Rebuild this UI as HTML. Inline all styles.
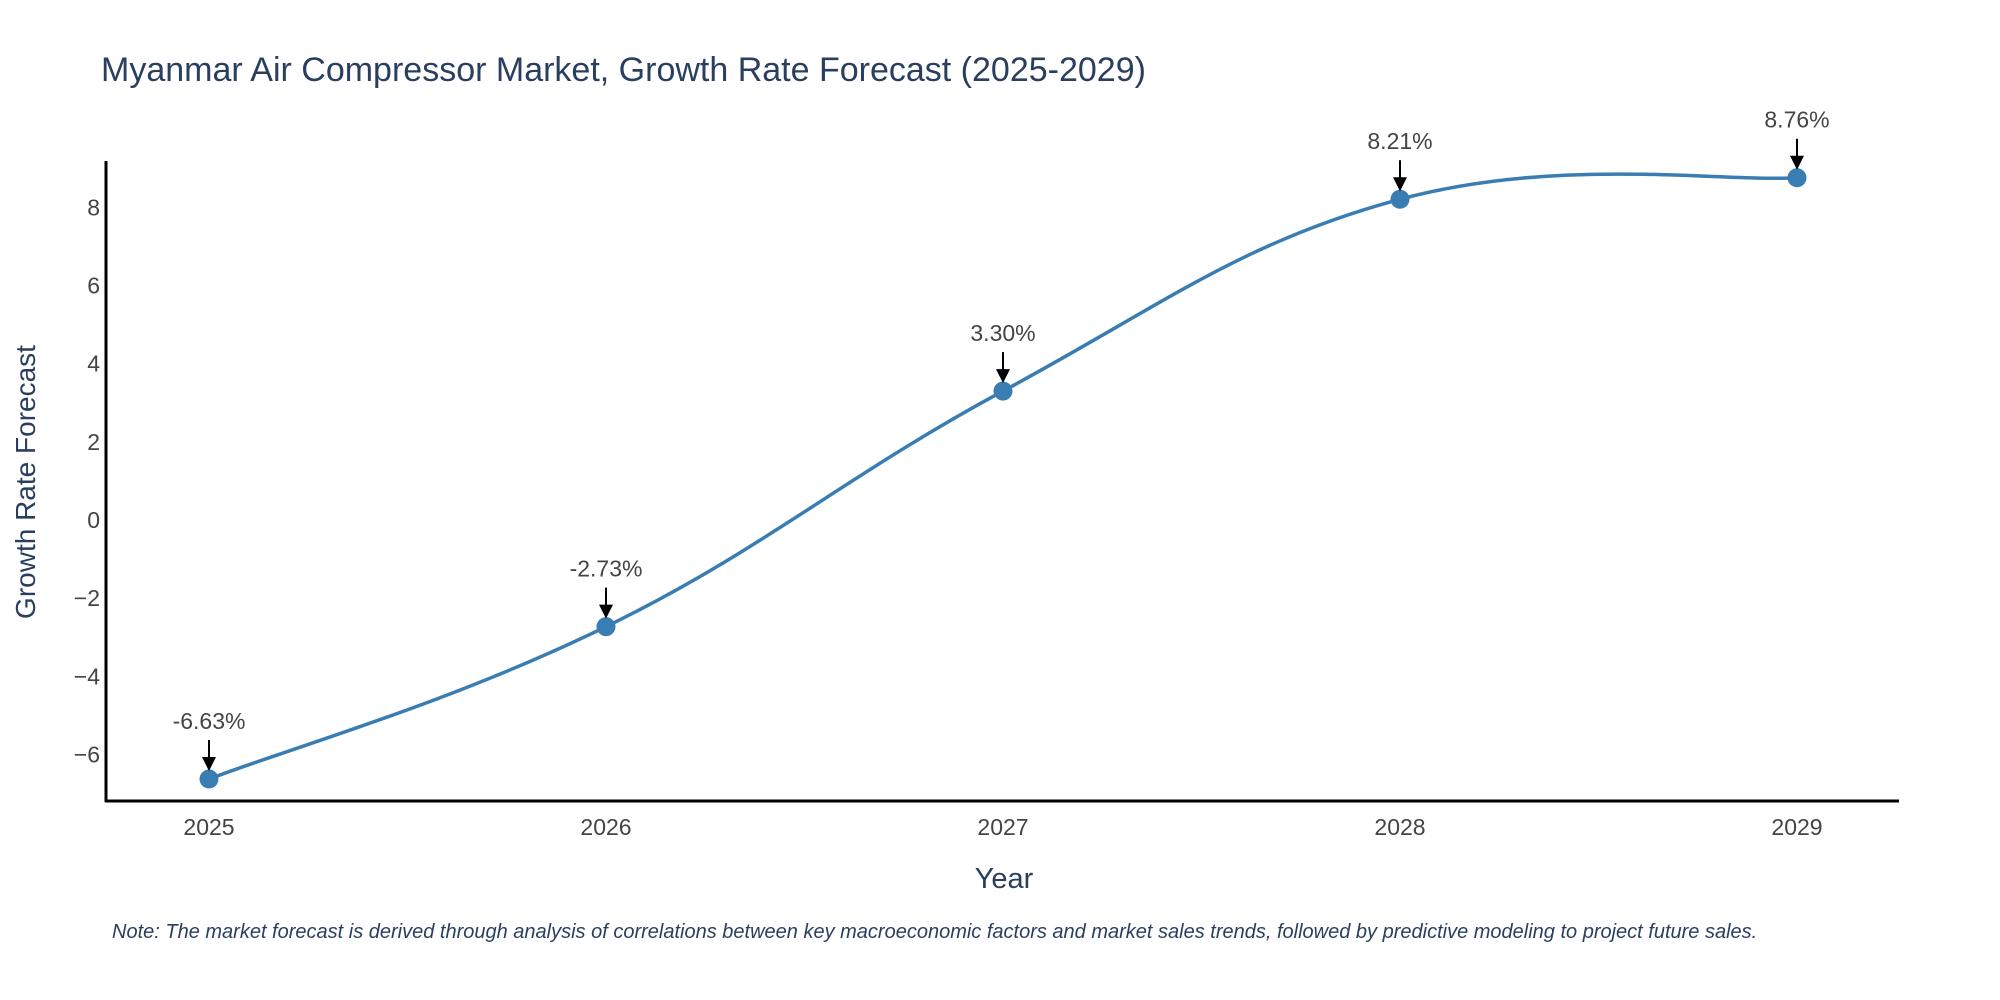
<!DOCTYPE html>
<html><head><meta charset="utf-8">
<style>
html,body{margin:0;padding:0;background:#fff;}
svg{display:block;font-family:"Liberation Sans","DejaVu Sans",sans-serif;}
</style></head>
<body>
<svg id="chart" width="2000" height="1000" viewBox="0 0 2000 1000" xmlns="http://www.w3.org/2000/svg">
<text x="101" y="81" font-size="34" fill="#2a3f5f">Myanmar Air Compressor Market, Growth Rate Forecast (2025-2029)</text>
<g id="yticks"></g>
<g id="xticks"></g>
<line x1="106" y1="161" x2="106" y2="802" stroke="#000" stroke-width="3"/>
<line x1="105" y1="801" x2="1899" y2="801" stroke="#000" stroke-width="3"/>
<path id="line" fill="none" stroke="#3a7db3" stroke-width="3.5"/>
<g id="points"></g>
<g id="annots"></g>
<text transform="translate(35,482) rotate(-90)" text-anchor="middle" font-size="28" fill="#2a3f5f">Growth Rate Forecast</text>
<text x="1004" y="888" text-anchor="middle" font-size="29" fill="#2a3f5f">Year</text>
<text x="112" y="938" font-size="20" font-style="italic" fill="#2a3f5f">Note: The market forecast is derived through analysis of correlations between key macroeconomic factors and market sales trends, followed by predictive modeling to project future sales.</text>
</svg>
<script>
const years = [2025, 2026, 2027, 2028, 2029];
const growth = [-6.63, -2.73, 3.30, 8.21, 8.76];
const labels = ["-6.63%", "-2.73%", "3.30%", "8.21%", "8.76%"];
const yTickValues = [-6, -4, -2, 0, 2, 4, 6, 8];
const yTickLabels = ["\u22126", "\u22124", "\u22122", "0", "2", "4", "6", "8"];

const NS = "http://www.w3.org/2000/svg";
function xScale(v){ return 209 + (v - 2025) * 397; }
function yScale(v){ return 520 - v * 39.07; }
function mk(tag, attrs, parent){
  const e = document.createElementNS(NS, tag);
  for (const k in attrs) e.setAttribute(k, attrs[k]);
  parent.appendChild(e); return e;
}
const yt = document.getElementById('yticks');
yTickValues.forEach((v,i)=>{
  const t = mk('text',{x:100,y:yScale(v)+8,'text-anchor':'end','font-size':23,fill:'#444'},yt);
  
  
  t.textContent = yTickLabels[i];
});
const xt = document.getElementById('xticks');
years.forEach(v=>{
  const t = mk('text',{x:xScale(v),y:835,'text-anchor':'middle','font-size':23,fill:'#444'},xt);
  
  
  t.textContent = v;
});
const pts = years.map((y,i)=>[xScale(y), yScale(growth[i])]);
let d = `M${pts[0][0]},${pts[0][1]}`;
const s = 0.2;
for (let i=0;i<pts.length-1;i++){
  const p0 = pts[i-1]||pts[i], p1=pts[i], p2=pts[i+1], p3=pts[i+2]||pts[i+1];
  const c1=[p1[0]+(p2[0]-p0[0])*s, p1[1]+(p2[1]-p0[1])*s];
  const c2=[p2[0]-(p3[0]-p1[0])*s, p2[1]-(p3[1]-p1[1])*s];
  d += ` C${c1[0]},${c1[1]} ${c2[0]},${c2[1]} ${p2[0]},${p2[1]}`;
}
document.getElementById('line').setAttribute('d', d);
const pg = document.getElementById('points');
const ag = document.getElementById('annots');
pts.forEach((p,i)=>{
  const c = mk('circle',{cx:p[0],cy:p[1],r:9.5,fill:'#3a7db3'},pg);
  
  
  const ln = mk('line',{x1:p[0],y1:p[1]-39,x2:p[0],y2:p[1]-20,stroke:'#000','stroke-width':2},ag);
  
  
  const hd = mk('polygon',{points:`${p[0]-7},${p[1]-22} ${p[0]+7},${p[1]-22} ${p[0]},${p[1]-8}`,fill:'#000'},ag);
  
  
  const t = mk('text',{x:p[0],y:p[1]-50,'text-anchor':'middle','font-size':23,fill:'#444'},ag);
  
  
  t.textContent = labels[i];
});
</script>
</body></html>
